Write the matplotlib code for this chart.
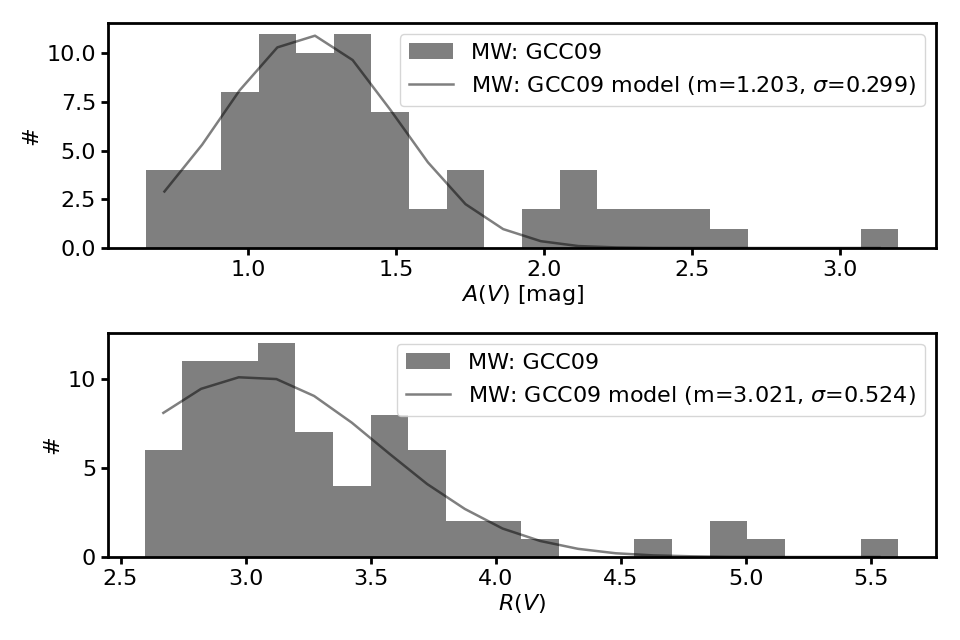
import matplotlib
matplotlib.use("Agg")
import matplotlib.pyplot as plt
import numpy as np

# A(V) histogram: 20 bins between 0.655 and 3.196 mag
av_edges = np.linspace(0.655, 3.196, 21)
av_counts = [4, 4, 8, 11, 10, 11, 7, 2, 4, 0, 2, 4, 2, 2, 2, 1, 0, 0, 0, 1]
# model curve read at the bin centres
av_model = [2.9, 5.3, 8.1, 10.3, 10.9, 9.65, 7.1, 4.4, 2.25, 0.97,
            0.35, 0.1, 0.03, 0.005, 0.0, 0.0, 0.0, 0.0, 0.0, 0.0]

# R(V) histogram: 20 bins between 2.596 and 5.609
rv_edges = np.linspace(2.596, 5.609, 21)
rv_counts = [6, 11, 11, 12, 7, 4, 8, 6, 2, 2, 1, 0, 0, 1, 0, 2, 1, 0, 0, 1]
rv_model = [8.1, 9.45, 10.1, 10.0, 9.05, 7.55, 5.8, 4.1, 2.7, 1.6,
            0.9, 0.46, 0.21, 0.09, 0.04, 0.01, 0.0, 0.0, 0.0, 0.0]

plt.rcParams['font.size'] = 16
plt.rcParams['axes.linewidth'] = 2
plt.rcParams['xtick.major.width'] = 2
plt.rcParams['ytick.major.width'] = 2
plt.rcParams['xtick.major.size'] = 5
plt.rcParams['ytick.major.size'] = 5

fig = plt.figure(figsize=(9.6, 6.4), dpi=100)
ax1 = fig.add_axes([0.1125, 0.6125, 0.8625, 0.3515])
ax2 = fig.add_axes([0.1125, 0.1297, 0.8625, 0.3503])

panels = [
    (ax1, av_edges, av_counts, av_model, 'm=1.203, $\\sigma$=0.299', r'$A(V)$ [mag]'),
    (ax2, rv_edges, rv_counts, rv_model, 'm=3.021, $\\sigma$=0.524', r'$R(V)$'),
]
for ax, edges, counts, model, pars, xlabel in panels:
    centres = 0.5 * (edges[:-1] + edges[1:])
    ax.hist(centres, bins=edges, weights=counts, color='k', alpha=0.5,
            label='MW: GCC09')
    ax.plot(centres, model, color='k', alpha=0.5, lw=1.8,
            label='MW: GCC09 model (%s)' % pars)
    ax.set_xlabel(xlabel, labelpad=2)
    ax.set_ylabel('#')
    ax.legend(loc='upper right')

ax1.set_xlim(0.528, 3.323)
ax1.set_ylim(0, 11.55)
ax1.set_xticks([1.0, 1.5, 2.0, 2.5, 3.0])
ax2.set_xlim(2.45, 5.76)
ax2.set_ylim(0, 12.6)
ax2.set_xticks([2.5, 3.0, 3.5, 4.0, 4.5, 5.0, 5.5])
ax2.set_yticks([0, 5, 10])

fig.savefig('out.png', dpi=100)
